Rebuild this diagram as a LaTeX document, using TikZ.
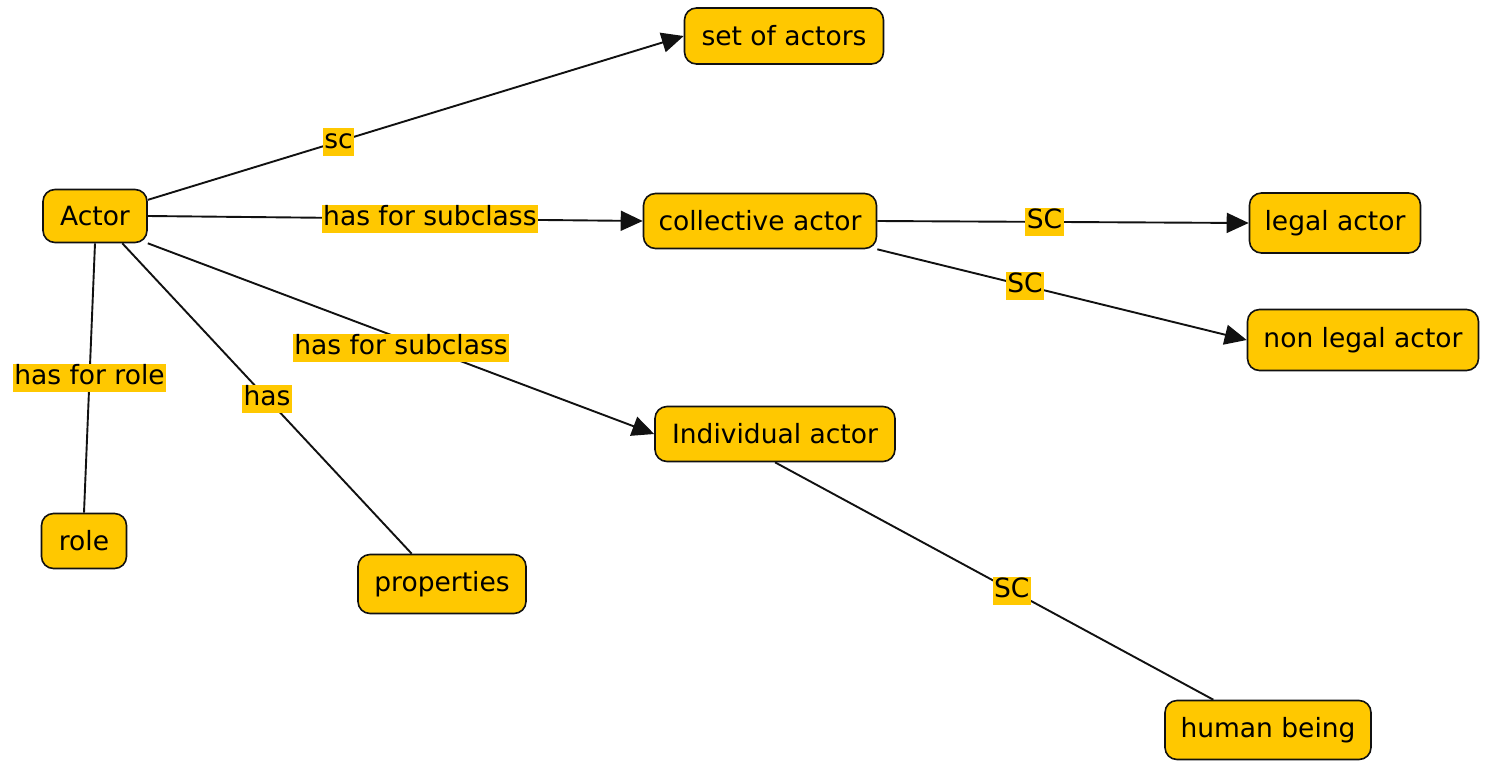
\documentclass[tikz,border=0pt]{standalone}
\usepackage{fontspec}
\setmainfont{DejaVu Sans}
\usetikzlibrary{arrows.meta}
\definecolor{gold}{HTML}{FFC800}
\definecolor{edge}{HTML}{111111}
\tikzset{
  concept/.style={draw=edge, line width=1.6pt, fill=gold, rounded corners=12pt, inner sep=0pt, font=\fontsize{26.5}{30}\selectfont},
  lbl/.style={fill=gold, inner sep=1.5pt, text height=19pt, text depth=6pt, font=\fontsize{26.5}{30}\selectfont},
  link/.style={draw=edge, line width=1.9pt},
  arr/.style={link, -{Triangle[length=22pt,width=20pt]}}
}
\begin{document}
\begin{tikzpicture}[x=1pt,y=-1pt]
\useasboundingbox (0,0) rectangle (1486,761);
\node[concept, minimum width=104pt, minimum height=53pt] (actor) at (95,216) {Actor};
\node[concept, minimum width=199pt, minimum height=56pt] (set) at (784,36) {set of actors};
\node[concept, minimum width=233pt, minimum height=55pt] (coll) at (760,221) {collective actor};
\node[concept, minimum width=171pt, minimum height=60pt] (legal) at (1335,223) {legal actor};
\node[concept, minimum width=231pt, minimum height=61pt] (nonlegal) at (1363,340) {non legal actor};
\node[concept, minimum width=240pt, minimum height=55pt] (indiv) at (775,434) {Individual actor};
\node[concept, minimum width=85pt, minimum height=55pt] (role) at (84,541) {role};
\node[concept, minimum width=168pt, minimum height=59pt] (prop) at (442,584) {properties};
\node[concept, minimum width=206pt, minimum height=59pt] (human) at (1268,730) {human being};

\draw[arr] (actor.17) -- node[lbl, pos=0.356] (l1) {sc} (set.west);
\draw[arr] (actor.east) -- node[lbl, pos=0.57] (l2) {has for subclass} (coll.west);
\draw[arr] (coll.east) -- node[lbl, pos=0.45] (l3) {SC} (legal.west);
\draw[arr] (coll.south east) -- node[lbl, pos=0.40] (l4) {SC} (nonlegal.west);
\draw[arr] (actor.south east) -- node[lbl, pos=0.5, yshift=-9pt] (l5) {has for subclass} (indiv.west);
\draw[link] (actor.south) -- node[lbl, pos=0.5] (l6) {has for role} (role.north);
\draw[link] (actor.-45) -- node[lbl, pos=0.5] (l7) {has} (prop.135);
\draw[link] (indiv.south) -- node[lbl, pos=0.54] (l8) {SC} (human.151);
\end{tikzpicture}
\end{document}
